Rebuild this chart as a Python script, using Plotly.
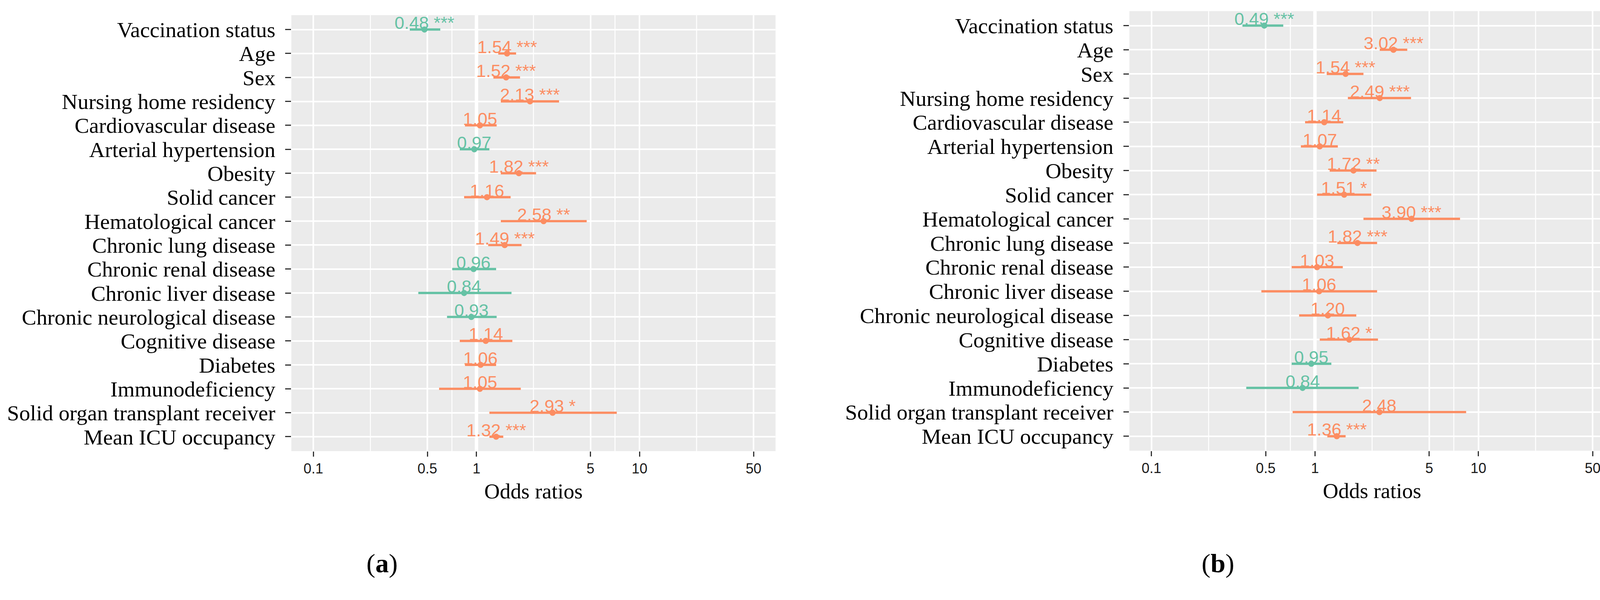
import numpy as np
import plotly.graph_objects as go

categories = [
    "Vaccination status", "Age", "Sex", "Nursing home residency",
    "Cardiovascular disease", "Arterial hypertension", "Obesity",
    "Solid cancer", "Hematological cancer", "Chronic lung disease",
    "Chronic renal disease", "Chronic liver disease",
    "Chronic neurological disease", "Cognitive disease", "Diabetes",
    "Immunodeficiency", "Solid organ transplant receiver", "Mean ICU occupancy",
]

# Panel (a)
or_a = [0.48, 1.54, 1.52, 2.13, 1.05, 0.97, 1.82, 1.16, 2.58, 1.49,
        0.96, 0.84, 0.93, 1.14, 1.06, 1.05, 2.93, 1.32]
lo_a = [0.39, 1.36, 1.27, 1.41, 0.85, 0.79, 1.41, 0.84, 1.41, 1.18,
        0.71, 0.44, 0.66, 0.79, 0.85, 0.59, 1.20, 1.20]
hi_a = [0.60, 1.75, 1.85, 3.21, 1.33, 1.20, 2.32, 1.62, 4.74, 1.89,
        1.32, 1.64, 1.33, 1.66, 1.32, 1.87, 7.25, 1.46]
sig_a = ["***", "***", "***", "***", "", "", "***", "", "**", "***",
         "", "", "", "", "", "", "*", "***"]

# Panel (b)
or_b = [0.49, 3.02, 1.54, 2.49, 1.14, 1.07, 1.72, 1.51, 3.90, 1.82,
        1.03, 1.06, 1.20, 1.62, 0.95, 0.84, 2.48, 1.36]
lo_b = [0.36, 2.49, 1.18, 1.59, 0.87, 0.82, 1.23, 1.03, 1.98, 1.37,
        0.72, 0.47, 0.80, 1.07, 0.72, 0.38, 0.73, 1.19]
hi_b = [0.64, 3.67, 1.98, 3.87, 1.49, 1.38, 2.38, 2.21, 7.72, 2.40,
        1.48, 2.40, 1.79, 2.43, 1.26, 1.85, 8.41, 1.54]
sig_b = ["***", "***", "***", "***", "", "", "**", "*", "***", "***",
         "", "", "", "*", "", "", "", "***"]

tick_vals = [0.1, 0.5, 1, 5, 10, 50]
tick_text = ["0.1", "0.5", "1", "5", "10", "50"]

TEAL = "#66C2A5"
ORANGE = "#FC8D62"
BG = "#EBEBEB"
SERIF = "Liberation Serif, Times New Roman, serif"
SANS = "Liberation Sans, Arial, sans-serif"

REF_W, REF_H = 4255, 1536
S = 1 / 1.019  # page-to-picture scale compensation


def px(v):
    return v * S


W, H = round(REF_W * S), round(REF_H * S)

fig = go.Figure()

panels = [
    dict(orv=or_a, lo=lo_a, hi=hi_a, sig=sig_a, xa="x", ya="y",
         xdom=(760 / REF_W, 2023 / REF_W), ydom=((REF_H - 1177) / REF_H, (REF_H - 39.5) / REF_H),
         label="(<b>a</b>)", lx=997 / REF_W),
    dict(orv=or_b, lo=lo_b, hi=hi_b, sig=sig_b, xa="x2", ya="y2",
         xdom=(2946 / REF_W, 4212 / REF_W), ydom=((REF_H - 1176) / REF_H, (REF_H - 29) / REF_H),
         label="(<b>b</b>)", lx=3177 / REF_W),
]

# minor grid positions: geometric midpoints between major breaks
minor_vals = [float(np.sqrt(a * b)) for a, b in zip(tick_vals[:-1], tick_vals[1:])]

annotations = []
shapes = []
for p in panels:
    orv = np.array(p["orv"])
    lo = np.array(p["lo"])
    hi = np.array(p["hi"])
    cats = np.array(categories)
    for mv in minor_vals:
        shapes.append(dict(type="line", xref=p["xa"], yref=p["ya"] + " domain",
                           x0=mv, x1=mv, y0=0, y1=1, layer="below",
                           line=dict(color="white", width=px(2.5))))
    shapes.append(dict(type="line", xref=p["xa"], yref=p["ya"] + " domain",
                       x0=1, x1=1, y0=0, y1=1, layer="below",
                       line=dict(color="white", width=px(9))))
    for mask, col in [(orv < 1, TEAL), (orv >= 1, ORANGE)]:
        fig.add_trace(go.Scatter(
            x=orv[mask], y=cats[mask], xaxis=p["xa"], yaxis=p["ya"],
            mode="markers",
            marker=dict(color=col, size=px(16), line=dict(width=0)),
            error_x=dict(type="data", symmetric=False,
                         array=(hi - orv)[mask], arrayminus=(orv - lo)[mask],
                         width=0, thickness=px(6), color=col),
            showlegend=False, hoverinfo="skip",
        ))
    for v, c, s in zip(p["orv"], categories, p["sig"]):
        txt = f"{v:.2f} {s}".strip()
        annotations.append(dict(
            x=np.log10(v), y=c, xref=p["xa"], yref=p["ya"], text=txt,
            showarrow=False, xanchor="center", yanchor="bottom", yshift=-px(11),
            font=dict(family=SANS, size=px(46), color=TEAL if v < 1 else ORANGE),
        ))
    annotations.append(dict(
        x=p["lx"], y=(REF_H - 1470) / REF_H, xref="paper", yref="paper",
        text=p["label"], showarrow=False, xanchor="center", yanchor="middle",
        font=dict(family=SERIF, size=px(70), color="black"),
    ))


def xaxis_cfg(dom, anchor):
    return dict(
        domain=list(dom), anchor=anchor, type="log",
        range=[np.log10(0.1) - 0.135, np.log10(50) + 0.135],
        tickmode="array", tickvals=tick_vals, ticktext=tick_text,
        showgrid=True, gridcolor="white", gridwidth=px(4.5), zeroline=False, showline=False,
        ticks="outside", ticklen=px(13), tickwidth=px(3.5), tickcolor="#333333",
        tickfont=dict(family=SANS, size=px(37), color="#1a1a1a"),
        title=dict(text="Odds ratios", font=dict(family=SERIF, size=px(56), color="black"),
                   standoff=px(18)),
        automargin=False, fixedrange=True,
    )


def yaxis_cfg(dom, anchor):
    return dict(
        domain=list(dom), anchor=anchor, type="category",
        categoryorder="array", categoryarray=categories,
        tickmode="array", tickvals=categories, ticktext=categories,
        range=[len(categories) - 1 + 0.6, -0.6],
        showgrid=True, gridcolor="white", gridwidth=px(4.5), zeroline=False, showline=False,
        ticks="outside", ticklen=px(15), tickwidth=px(3.5), tickcolor="#333333",
        tickfont=dict(family=SERIF, size=px(57), color="black"),
        ticklabelstandoff=round(px(14)),
        automargin=False, fixedrange=True,
    )


fig.update_layout(
    width=W, height=H, margin=dict(l=0, r=0, t=0, b=0, autoexpand=False),
    paper_bgcolor="white", plot_bgcolor=BG,
    xaxis=xaxis_cfg(panels[0]["xdom"], "y"),
    yaxis=yaxis_cfg(panels[0]["ydom"], "x"),
    xaxis2=xaxis_cfg(panels[1]["xdom"], "y2"),
    yaxis2=yaxis_cfg(panels[1]["ydom"], "x2"),
    annotations=annotations, shapes=shapes, showlegend=False,
)

fig.write_html(
    "out.html",
    config={"displayModeBar": False},
    post_script=("document.body.style.margin='0';document.body.style.padding='0';"
                 "document.body.style.overflow='hidden';"
                 "document.documentElement.style.overflow='hidden';"),
)
